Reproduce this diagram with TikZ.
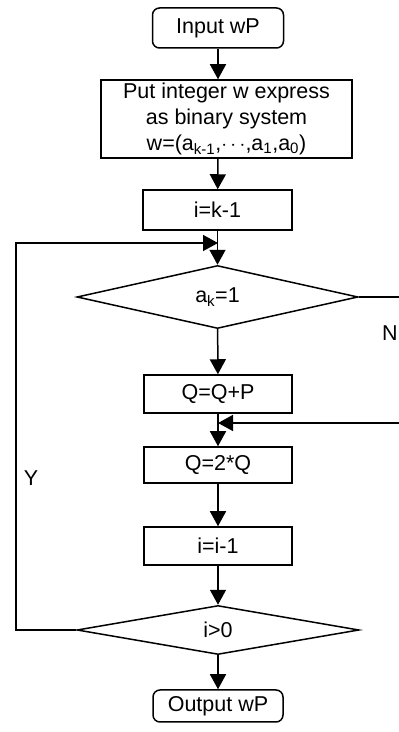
\documentclass[tikz,border=0pt]{standalone}
\usepackage{fontspec}
\setmainfont{Liberation Sans}
\usepackage{tikz}
\usetikzlibrary{arrows.meta, shapes.geometric, positioning}

\begin{document}
\begin{tikzpicture}[
        x=1pt, y=1pt,
        every node/.style={font=\fontsize{21.5}{26}\selectfont, inner sep=0pt},
        term/.style={draw, rounded corners=7pt, line width=1.5pt, minimum width=131pt, minimum height=40pt},
        proc/.style={draw, line width=1.5pt, minimum width=148pt, minimum height=38pt},
        decision/.style={diamond, draw, aspect=4.5, line width=1.5pt, minimum width=281pt, minimum height=63pt},
        arr/.style={-{Triangle[length=15pt, width=16pt]}, line width=1.5pt}
    ]
    \useasboundingbox (0,0) rectangle (399,732);
    \clip (0,0) rectangle (399,732);

    % main column
    \node[term] (in) at (218, 704) {Input wP};
    \node[proc, minimum width=251pt, minimum height=78pt, align=center] (bin) at (226.5, 613)
        {Put integer w express\\as binary system\\w=(a\textsubscript{k-1},\ensuremath{\cdots},a\textsubscript{1},a\textsubscript{0})};
    \node[proc, minimum width=149pt, minimum height=40pt] (init) at (217.5, 522) {i=k-1};
    \node[decision] (d1) at (217.5, 435) {a\textsubscript{k}=1};
    \node[proc] (add) at (218, 338) {Q=Q+P};
    \node[proc, minimum height=36pt] (dbl) at (218, 267) {Q=2*Q};
    \node[proc] (dec) at (218, 186) {i=i-1};
    \node[decision, minimum width=282pt, minimum height=49pt] (d2) at (218, 102) {i>0};
    \node[term, minimum width=130pt, minimum height=32pt] (out) at (218, 26) {Output wP};

    % join points and corners
    \coordinate (j1) at (218, 489);
    \coordinate (j2) at (218, 309);
    \coordinate (yl) at (16, 102);
    \coordinate (nr) at (430, 435);

    \draw[arr] (in) -- (in |- bin.north);
    \draw[arr] (bin.south -| in) -- (init);
    \draw[arr] (init) -- (d1);
    \draw[arr] (d1) -- (add);
    \draw[arr] (add) -- (dbl);
    \draw[arr] (dbl) -- (dec);
    \draw[arr] (dec) -- (d2);
    \draw[arr] (d2) -- (out);

    % loops
    \draw[arr] (d2.west) -- (yl) |- (j1);
    \draw[arr] (d1.east) -- (nr) |- (j2);

    \node (ylab) at (31, 254) {Y};
    \node (nlab) at (390, 399) {N};

\end{tikzpicture}
\end{document}
